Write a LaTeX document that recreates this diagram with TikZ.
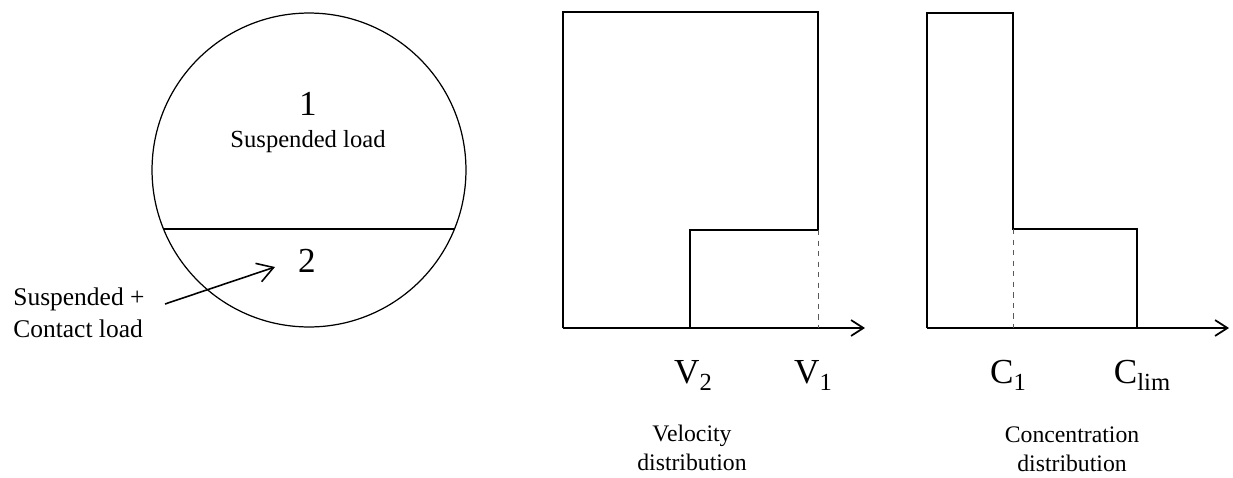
\documentclass[tikz,border=0pt]{standalone}
\usepackage{fontspec}
\setmainfont{Liberation Serif}
\usetikzlibrary{arrows.meta,positioning}

\newcommand{\lowsub}[1]{\raisebox{-4pt}{\fontsize{14}{14}\selectfont #1}}

\begin{document}
\begin{tikzpicture}[x=0.02cm,y=-0.02cm,>={Straight Barb[length=7pt,width=9pt]}]
\tikzset{
  wall/.style={line width=0.7pt},
  prof/.style={line width=1pt},
  axis/.style={line width=1pt,->},
  guide/.style={dashed,line width=0.4pt,gray!70!black},
  big/.style={font=\fontsize{20}{24}\selectfont,anchor=base,inner sep=0pt},
  small/.style={font=\fontsize{13.5}{16}\selectfont,align=center,anchor=base,inner sep=0pt}
}
\useasboundingbox (0,0) rectangle (1233,477);

% pipe cross-section
\node[circle,draw,wall,minimum size=6.28cm,inner sep=0pt] (pipe) at (309,170) {};
\draw[wall] (pipe.202.5) -- (pipe.-22.5);
\node[big] (one) at (308,115) {1};
\node[small,font=\fontsize{14}{16}\selectfont] (susp) at (308,147) {Suspended load};
\node[big] (two) at (307,272) {2};
\node[small,font=\fontsize{14.5}{18}\selectfont,align=left,anchor=base west] (mixed) at (13,337) {Suspended +\\Contact load};
\coordinate (tail) at (165,304);
\coordinate (tip) at (275,267);
\draw[line width=0.9pt,-{Straight Barb[length=9pt,width=11pt]}] (tail) -- (tip);

% velocity profile
\draw[prof] (563,328) -- (563,12) -- (818,12) -- (818,230) -- (690,230) -- (690,328);
\draw[axis] (563,328) -- (865,328);
\draw[guide] (818,230) -- (818,328);
\node[big] (v2) at (693,383) {V\lowsub{2}};
\node[big] (v1) at (813,383) {V\lowsub{1}};
\node[small] (vel) at (692,470) {Velocity\\distribution};

% concentration profile
\draw[prof] (927,328) -- (927,13) -- (1013,13) -- (1013,229) -- (1137,229) -- (1137,328);
\draw[axis] (927,328) -- (1229,328);
\draw[guide] (1013,229) -- (1013,328);
\node[big] (c1) at (1008,383) {C\lowsub{1}};
\node[big] (clim) at (1142,383) {C\lowsub{lim}};
\node[small] (conc) at (1072,471) {Concentration\\distribution};
\end{tikzpicture}
\end{document}
